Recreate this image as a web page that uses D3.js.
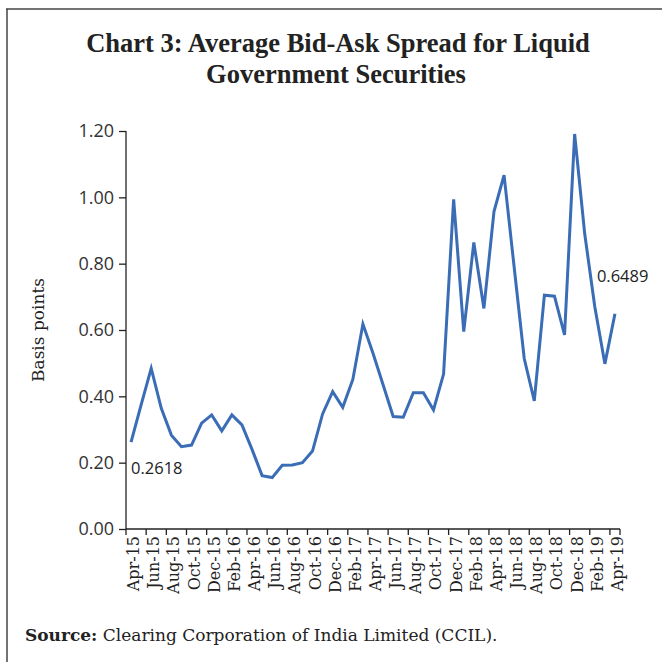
<!DOCTYPE html>
<html>
<head>
<meta charset="utf-8">
<script src="https://cdn.jsdelivr.net/npm/d3@7"></script>
<style>
  body { margin: 0; background: #fff; }
  svg { display: block; }
</style>
</head>
<body>
<svg id="chart" width="662" height="662"></svg>
<script>
// monthly data, Apr-15 .. Apr-19
const months = [
    "Apr-15","May-15","Jun-15","Jul-15","Aug-15","Sep-15","Oct-15","Nov-15","Dec-15","Jan-16","Feb-16","Mar-16",
    "Apr-16","May-16","Jun-16","Jul-16","Aug-16","Sep-16","Oct-16","Nov-16","Dec-16","Jan-17","Feb-17","Mar-17",
    "Apr-17","May-17","Jun-17","Jul-17","Aug-17","Sep-17","Oct-17","Nov-17","Dec-17","Jan-18","Feb-18","Mar-18",
    "Apr-18","May-18","Jun-18","Jul-18","Aug-18","Sep-18","Oct-18","Nov-18","Dec-18","Jan-19","Feb-19","Mar-19",
    "Apr-19"
];
const spread = [
    0.2618, 0.374, 0.484, 0.364, 0.283, 0.248, 0.253, 0.319, 0.344, 0.296, 0.344, 0.314,
    0.240, 0.161, 0.155, 0.192, 0.193, 0.200, 0.235, 0.347, 0.414, 0.367, 0.451, 0.618,
    0.530, 0.435, 0.339, 0.337, 0.411, 0.411, 0.359, 0.467, 0.994, 0.595, 0.864, 0.665,
    0.957, 1.067, 0.790, 0.514, 0.386, 0.705, 0.702, 0.585, 1.191, 0.890, 0.670, 0.498,
    0.6489
];
const yTicks = [0, 0.2, 0.4, 0.6, 0.8, 1.0, 1.2];
const labelled = [0, months.length - 1];   // points with value labels

const svg = d3.select("#chart");
const margin = {left: 126, right: 42, top: 131, bottom: 133};
const W = 662, H = 662;
const serif = "DejaVu Serif, serif";

// frame (top + left rules only)
svg.append("line").attr("x1", 6).attr("x2", W).attr("y1", 9).attr("y2", 9)
    .attr("stroke", "#444").attr("stroke-width", 1.5);
svg.append("line").attr("x1", 7).attr("x2", 7).attr("y1", 9).attr("y2", H)
    .attr("stroke", "#444").attr("stroke-width", 1.5);

// title
const title = svg.append("text")
    .attr("text-anchor", "middle")
    .attr("font-family", "Liberation Serif, serif")
    .attr("font-weight", "bold")
    .attr("font-size", "26.5px")
    .attr("fill", "#222");
title.append("tspan").attr("x", 338).attr("y", 52).text("Chart 3: Average Bid-Ask Spread for Liquid");
title.append("tspan").attr("x", 336).attr("y", 83).text("Government Securities");

const x = d3.scaleBand()
    .domain(months)
    .range([margin.left, W - margin.right])
    .paddingInner(0).paddingOuter(0);

const y = d3.scaleLinear()
    .domain([0, 1.2])
    .range([H - margin.bottom, margin.top]);

// y axis
const yAxis = svg.append("g")
    .attr("transform", `translate(${margin.left},0)`)
    .call(d3.axisLeft(y).tickValues(yTicks).tickFormat(d3.format(".2f")).tickSize(7).tickPadding(5));
yAxis.select(".domain").attr("stroke", "#222").attr("stroke-width", 1.3).attr("d", `M0,${y(0)}V${y(1.2)}`);
yAxis.selectAll(".tick line").attr("stroke", "#222").attr("stroke-width", 1.3);
yAxis.selectAll(".tick text")
    .attr("font-family", "Open Sans, sans-serif")
    .attr("font-size", "18px")
    .attr("fill", "#333");

// x axis: ticks between every 2nd category, labels on every 2nd category
const xg = svg.append("g").attr("transform", `translate(0,${y(0)})`);
xg.append("line")
    .attr("x1", x.range()[0]).attr("x2", x.range()[1])
    .attr("stroke", "#222").attr("stroke-width", 1.3);
const tickMonths = months.filter((m, i) => i % 2 === 0);
xg.selectAll(".xt").data(tickMonths.concat(["_end"]))
    .enter().append("line")
    .attr("x1", d => d === "_end" ? x.range()[1] : x(d))
    .attr("x2", d => d === "_end" ? x.range()[1] : x(d))
    .attr("y1", 0).attr("y2", 6)
    .attr("stroke", "#222").attr("stroke-width", 1.3);
xg.selectAll(".xl").data(tickMonths)
    .enter().append("text")
    .attr("transform", d => `translate(${x(d) + x.bandwidth() / 2 + 8},7) rotate(-90)`)
    .attr("text-anchor", "end")
    .attr("font-family", serif)
    .attr("font-size", "16px")
    .attr("fill", "#222")
    .text(d => d);

// y axis title
svg.append("text")
    .attr("transform", `translate(44,${(y(0) + y(1.2)) / 2}) rotate(-90)`)
    .attr("text-anchor", "middle")
    .attr("font-family", serif)
    .attr("font-size", "17px")
    .attr("fill", "#222")
    .text("Basis points");

// line
const line = d3.line()
    .x((d, i) => x(months[i]) + x.bandwidth() / 2)
    .y(d => y(d));

svg.append("path")
    .datum(spread)
    .attr("fill", "none")
    .attr("stroke", "#3a6db5")
    .attr("stroke-width", 3)
    .attr("stroke-linejoin", "miter")
    .attr("d", line);

// value labels
svg.selectAll(".vl").data(labelled)
    .enter().append("text")
    .attr("x", i => i === 0 ? x(months[i]) + x.bandwidth() / 2 : x(months[i]) - 13)
    .attr("y", i => i === 0 ? y(spread[i]) + 32 : y(spread[i]) - 32)
    .attr("font-family", "Open Sans, sans-serif")
    .attr("font-size", "16.5px")
    .attr("fill", "#222")
    .text(i => spread[i].toFixed(4));

// source
const src = svg.append("text")
    .attr("x", 25).attr("y", 641)
    .attr("font-family", serif)
    .attr("font-size", "17px")
    .attr("fill", "#222");
src.append("tspan").attr("font-weight", "bold").text("Source:");
src.append("tspan").text(" Clearing Corporation of India Limited (CCIL).");
</script>
</body>
</html>
